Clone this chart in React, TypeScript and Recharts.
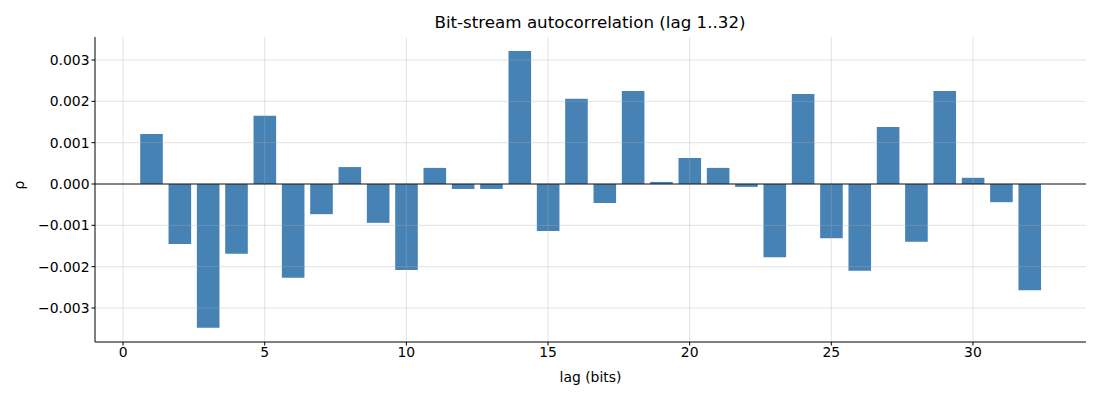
import React from 'react';
import { BarChart, Bar, XAxis, YAxis, ReferenceLine } from 'recharts';

const lags = [
  1, 2, 3, 4, 5, 6, 7, 8, 9, 10, 11, 12, 13, 14, 15, 16,
  17, 18, 19, 20, 21, 22, 23, 24, 25, 26, 27, 28, 29, 30, 31, 32,
];
const rho = [
  0.00121, -0.00145, -0.00348, -0.00169, 0.00165, -0.00227, -0.00073, 0.00041,
  -0.00094, -0.00208, 0.00039, -0.00012, -0.00012, 0.00322, -0.00114, 0.00206,
  -0.00046, 0.00225, 0.00005, 0.00063, 0.00039, -0.00007, -0.00177, 0.00218,
  -0.00131, -0.0021, 0.00138, -0.0014, 0.00225, 0.00015, -0.00044, -0.00257,
];
const xTicks = [0, 5, 10, 15, 20, 25, 30];
const yTicks = [-0.003, -0.002, -0.001, 0, 0.001, 0.002, 0.003];

const data = lags.map((lag, i) => ({ lag, rho: rho[i] }));

const FONT = 'DejaVu Sans, sans-serif';
const fmtY = (v: number) => (v < 0 ? '\u2212' + Math.abs(v).toFixed(3) : v.toFixed(3));

export default function App() {
  return (
    <div style={{ position: 'absolute', left: 0, top: 0, width: 1100, height: 400, background: '#fff', fontFamily: FONT }}>
      <div style={{ position: 'absolute', left: 95, width: 990, top: 12, textAlign: 'center', fontSize: 16.7, color: '#000' }}>
        Bit-stream autocorrelation (lag 1..32)
      </div>
      <BarChart
        width={1100}
        height={400}
        data={data}
        margin={{ top: 37, right: 14, left: 19, bottom: 16 }}
      >
        <XAxis
          dataKey="lag"
          type="number"
          domain={[-0.99, 33.99]}
          ticks={xTicks}
          allowDataOverflow
          height={42}
          stroke="#000"
          tickSize={3.5}
          tick={{ fill: '#000', fontSize: 13.9, fontFamily: FONT }}
          label={{ value: 'lag (bits)', position: 'insideBottom', offset: 2, fill: '#000', fontSize: 13.9, fontFamily: FONT }}
        />
        <YAxis
          type="number"
          domain={[-0.003823, 0.003557]}
          ticks={yTicks}
          allowDataOverflow
          width={76}
          stroke="#000"
          tickSize={3.5}
          tickFormatter={fmtY}
          tick={{ fill: '#000', fontSize: 13.9, fontFamily: FONT }}
          label={{ value: 'ρ', angle: -90, position: 'insideLeft', offset: 0, fill: '#000', fontSize: 13.9, fontFamily: FONT }}
        />
        <Bar dataKey="rho" fill="#4682b4" barSize={22.6} isAnimationActive={false} />
        {xTicks.map((t) => (
          <ReferenceLine key={'gx' + t} x={t} stroke="#b0b0b0" strokeOpacity={0.35} strokeWidth={1} />
        ))}
        {yTicks.map((t) => (
          <ReferenceLine key={'gy' + t} y={t} stroke="#b0b0b0" strokeOpacity={0.35} strokeWidth={1} />
        ))}
        <ReferenceLine y={0} stroke="#000" strokeWidth={0.9} />
      </BarChart>
    </div>
  );
}
